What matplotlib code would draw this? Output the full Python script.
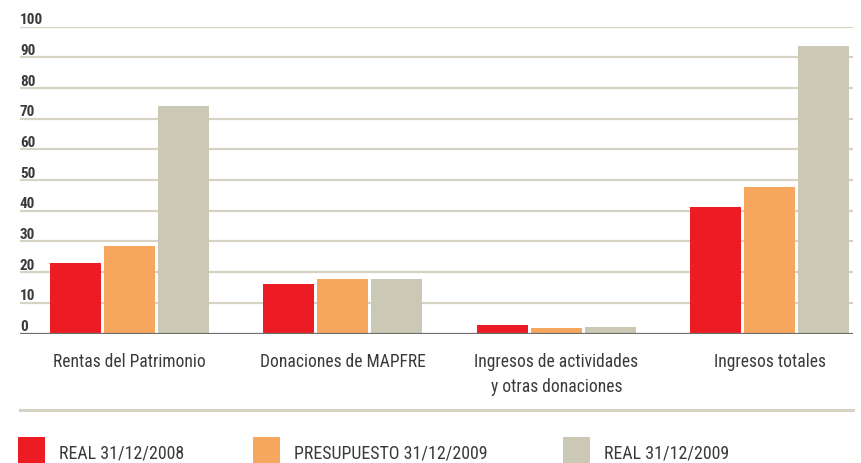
import matplotlib
matplotlib.use("Agg")
import matplotlib.pyplot as plt
import matplotlib.transforms as mtransforms
from matplotlib import font_manager as fm
from matplotlib.patches import Rectangle
import numpy as np

categories = ["Rentas del Patrimonio", "Donaciones de MAPFRE",
              "Ingresos de actividades\ny otras donaciones", "Ingresos totales"]
series_names = ["REAL 31/12/2008", "PRESUPUESTO 31/12/2009", "REAL 31/12/2009"]
real_2008 = [23.0, 16.1, 2.8, 41.2]
presupuesto_2009 = [28.5, 17.8, 1.8, 47.7]
real_2009 = [74.1, 17.8, 2.1, 93.6]
y_ticks = [0, 10, 20, 30, 40, 50, 60, 70, 80, 90, 100]

colors = ["#ED1C24", "#F7A65E", "#CBC8B5"]
grid_color = "#D6D3C4"
text_color = "#3A3A3A"

# pick a condensed font if one is installed
installed = {f.name for f in fm.fontManager.ttflist}
FONT = dict(family="DejaVu Sans", stretch="condensed")
for cand in ["Roboto Condensed", "Open Sans Condensed", "Liberation Sans Narrow"]:
    if cand in installed:
        FONT = dict(family=cand)
        break

W, H = 862, 464
fig = plt.figure(figsize=(W / 100, H / 100), dpi=100)
ax = fig.add_axes([20 / W, (H - 334.5) / H, (853 - 20) / W, (334.5 - 27.6) / H])
renderer = fig.canvas.get_renderer()


def fy(px_from_top):
    return (H - px_from_top) / H


def fit_size(txt, target_w):
    bb = txt.get_window_extent(renderer)
    return txt.get_fontsize() * target_w / bb.width


x = np.arange(len(categories))
width = 0.239
step = 0.253
for i, (vals, c) in enumerate(zip([real_2008, presupuesto_2009, real_2009], colors)):
    ax.bar(x + (i - 1) * step, vals, width=width, color=c, zorder=3, linewidth=0)

ax.set_xlim(-0.513, 3.39)
ax.set_ylim(0, 100)
for v in y_ticks[1:]:
    ax.axhline(v, color=grid_color, lw=1.6, zorder=1)
ax.axhline(0, color="#6E6E6E", lw=1.6, zorder=4)
for s in ax.spines.values():
    s.set_visible(False)
ax.set_xticks([])
ax.set_yticks([])

# y labels above the gridlines
trans = mtransforms.blended_transform_factory(ax.transAxes, ax.transData)
probe = fig.text(0, 0, "100", fontsize=10, fontweight="bold", **FONT)
ysize = fit_size(probe, 20.5) * 1.12
probe.remove()
for v in y_ticks:
    ax.text(0.0, v + 1.1, str(v), transform=trans, ha="left", va="baseline",
            fontsize=ysize, color=text_color, fontweight="bold", **FONT)

# category labels
probe = fig.text(0, 0, "Rentas del Patrimonio", fontsize=10, **FONT)
csize = fit_size(probe, 146) * 1.04
probe.remove()
for xi, lab in zip(x, categories):
    for k, line in enumerate(lab.split("\n")):
        ax.annotate(line, (xi, 0), xycoords="data",
                    xytext=(0, -(367 + 25 * k - 334.5) * 72 / 100),
                    textcoords="offset points", ha="center", va="baseline",
                    fontsize=csize, color=text_color, annotation_clip=False,
                    **FONT)

# separator line
fig.add_artist(plt.Line2D([20 / W, 853 / W], [fy(410.5)] * 2,
                          color=grid_color, lw=2.2))

# legend
leg_x = [18, 253, 563]
probe = fig.text(0, 0, series_names[0], fontsize=10, **FONT)
lsize = fit_size(probe, 118) * 1.05
probe.remove()
for lx, name, c in zip(leg_x, series_names, colors):
    fig.add_artist(Rectangle((lx / W, 0), 27 / W, fy(438),
                             transform=fig.transFigure, color=c, lw=0))
    fig.text((lx + 41) / W, fy(459), name, ha="left", va="baseline",
             fontsize=lsize, color=text_color, **FONT)

fig.savefig("out.png", dpi=100)
